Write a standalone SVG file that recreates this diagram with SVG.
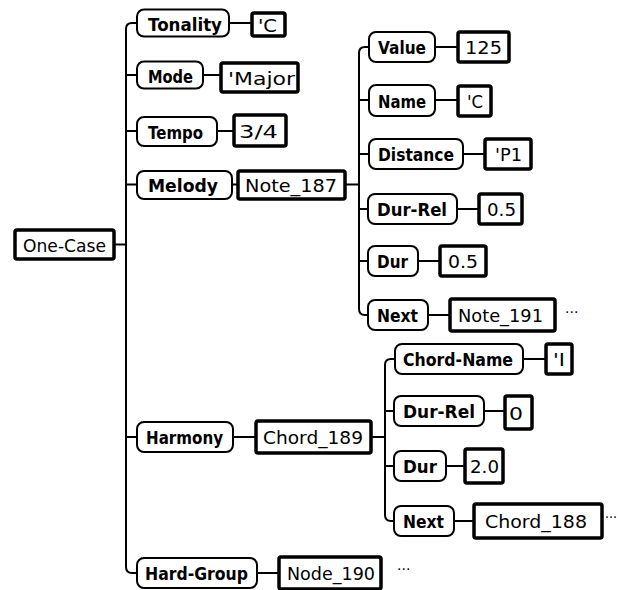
<svg xmlns="http://www.w3.org/2000/svg" width="619" height="590" viewBox="0 0 619 590">
<style>
.attr rect{fill:#fff;stroke:#000;stroke-width:2}
.val rect{fill:#fff;stroke:#000;stroke-width:3.5}
.attr text{font-family:"DejaVu Sans",sans-serif;font-weight:bold;font-size:17px;fill:#000}
.val text{font-family:"DejaVu Sans",sans-serif;font-size:17px;fill:#000}
.conn{fill:none;stroke:#000;stroke-width:2}
.dots{font-family:"DejaVu Sans",sans-serif;font-size:14px;fill:#000}
</style>
<rect width="619" height="590" fill="#fff"/>
<g id="connectors" class="conn">
<path d="M115,244.5 H126"/>
<path d="M137,23 H132 Q126,23 126,29 V567 Q126,573 132,573 H137"/>
<path d="M126,75 H137 M126,131 H137 M126,184.5 H137 M126,437 H136"/>
<path d="M229,23 H251 M203,75 H220 M217,131 H233 M232,184.5 H237"/>
<path d="M346,184.5 H359"/>
<path d="M369,47 H365 Q359,47 359,53 V309 Q359,315 365,315 H368"/>
<path d="M359,100 H369 M359,154 H369 M359,209 H368 M359,261 H368"/>
<path d="M435,47 H457 M435,100 H457 M463,154 H484 M457,209 H478 M418,261 H439 M428,315 H449"/>
<path d="M233,437 H255 M372,437 H385"/>
<path d="M395,359 H391 Q385,359 385,365 V515 Q385,521 391,521 H394"/>
<path d="M385,411 H394 M385,466 H394"/>
<path d="M523,359 H545 M484,411 H504 M446,466 H464 M454,521 H473"/>
<path d="M257,573 H278"/>
</g>
<g id="one-case" class="val"><rect x="15" y="230" width="99" height="29" rx="2"/><text x="23" y="251.5" textLength="83" lengthAdjust="spacingAndGlyphs">One-Case</text></g>
<g id="tonality" class="attr"><rect x="137" y="9.5" width="92" height="27" rx="7"/><text x="148" y="30.5" textLength="74" lengthAdjust="spacingAndGlyphs">Tonality</text></g>
<g id="tonality-val" class="val"><rect x="252" y="13" width="33" height="23" rx="2"/><text x="258" y="31.5" textLength="19" lengthAdjust="spacingAndGlyphs">'C</text></g>
<g id="mode" class="attr"><rect x="137" y="61.5" width="66" height="27" rx="7"/><text x="148" y="82.5" textLength="45" lengthAdjust="spacingAndGlyphs">Mode</text></g>
<g id="mode-val" class="val"><rect x="221" y="63" width="77" height="29" rx="2"/><text x="228" y="84.5" textLength="67" lengthAdjust="spacingAndGlyphs">'Major</text></g>
<g id="tempo" class="attr"><rect x="137" y="117" width="80" height="29" rx="7"/><text x="148" y="139" textLength="55" lengthAdjust="spacingAndGlyphs">Tempo</text></g>
<g id="tempo-val" class="val"><rect x="234" y="115" width="52" height="31" rx="2"/><text x="239" y="137.5" textLength="39" lengthAdjust="spacingAndGlyphs">3/4</text></g>
<g id="melody" class="attr"><rect x="137" y="171" width="95" height="28" rx="7"/><text x="148" y="192" textLength="70" lengthAdjust="spacingAndGlyphs">Melody</text></g>
<g id="note187" class="val"><rect x="238" y="171" width="107" height="28" rx="2"/><text x="245" y="192" textLength="92" lengthAdjust="spacingAndGlyphs">Note_187</text></g>
<g id="value" class="attr"><rect x="369" y="32" width="66" height="30" rx="7"/><text x="378" y="54" textLength="48" lengthAdjust="spacingAndGlyphs">Value</text></g>
<g id="value-val" class="val"><rect x="458" y="32" width="51" height="30" rx="2"/><text x="465" y="54" textLength="37" lengthAdjust="spacingAndGlyphs">125</text></g>
<g id="name" class="attr"><rect x="369" y="85" width="66" height="31" rx="7"/><text x="378" y="108" textLength="48" lengthAdjust="spacingAndGlyphs">Name</text></g>
<g id="name-val" class="val"><rect x="458" y="86" width="33" height="30" rx="2"/><text x="467" y="108" textLength="16" lengthAdjust="spacingAndGlyphs">'C</text></g>
<g id="distance" class="attr"><rect x="369" y="139" width="94" height="30" rx="7"/><text x="378" y="161" textLength="76" lengthAdjust="spacingAndGlyphs">Distance</text></g>
<g id="distance-val" class="val"><rect x="485" y="139" width="46" height="30" rx="2"/><text x="495" y="161" textLength="27" lengthAdjust="spacingAndGlyphs">'P1</text></g>
<g id="durrel1" class="attr"><rect x="368" y="194" width="89" height="30" rx="7"/><text x="377" y="216" textLength="70" lengthAdjust="spacingAndGlyphs">Dur-Rel</text></g>
<g id="durrel1-val" class="val"><rect x="479" y="194" width="43" height="30" rx="2"/><text x="487" y="216" textLength="29" lengthAdjust="spacingAndGlyphs">0.5</text></g>
<g id="dur1" class="attr"><rect x="368" y="246" width="50" height="30" rx="7"/><text x="377" y="268" textLength="31" lengthAdjust="spacingAndGlyphs">Dur</text></g>
<g id="dur1-val" class="val"><rect x="440" y="246" width="46" height="30" rx="2"/><text x="448" y="268" textLength="30" lengthAdjust="spacingAndGlyphs">0.5</text></g>
<g id="next1" class="attr"><rect x="368" y="300" width="60" height="30" rx="7"/><text x="377" y="322" textLength="41" lengthAdjust="spacingAndGlyphs">Next</text></g>
<g id="note191" class="val"><rect x="450" y="299" width="105" height="32" rx="2"/><text x="458" y="322" textLength="85" lengthAdjust="spacingAndGlyphs">Note_191</text></g>
<text class="dots" x="565" y="317">···</text>
<g id="harmony" class="attr"><rect x="137" y="422" width="96" height="30" rx="7"/><text x="146" y="444" textLength="77" lengthAdjust="spacingAndGlyphs">Harmony</text></g>
<g id="chord189" class="val"><rect x="256" y="421" width="115" height="32" rx="2"/><text x="263" y="444" textLength="100" lengthAdjust="spacingAndGlyphs">Chord_189</text></g>
<g id="chordname" class="attr"><rect x="395" y="344" width="128" height="30" rx="7"/><text x="403" y="366" textLength="110" lengthAdjust="spacingAndGlyphs">Chord-Name</text></g>
<g id="chordname-val" class="val"><rect x="546" y="344" width="26" height="30" rx="2"/><text x="553" y="366" textLength="12" lengthAdjust="spacingAndGlyphs">'I</text></g>
<g id="durrel2" class="attr"><rect x="394" y="396" width="90" height="30" rx="7"/><text x="403" y="418" textLength="72" lengthAdjust="spacingAndGlyphs">Dur-Rel</text></g>
<g id="durrel2-val" class="val"><rect x="505" y="396" width="27" height="33" rx="2"/><text x="509" y="419.5" textLength="14" lengthAdjust="spacingAndGlyphs">0</text></g>
<g id="dur2" class="attr"><rect x="394" y="451" width="52" height="30" rx="7"/><text x="403" y="473" textLength="34" lengthAdjust="spacingAndGlyphs">Dur</text></g>
<g id="dur2-val" class="val"><rect x="465" y="449" width="38" height="34" rx="2"/><text x="470" y="473" textLength="29" lengthAdjust="spacingAndGlyphs">2.0</text></g>
<g id="next2" class="attr"><rect x="394" y="506" width="60" height="30" rx="7"/><text x="403" y="528" textLength="41" lengthAdjust="spacingAndGlyphs">Next</text></g>
<g id="chord188" class="val"><rect x="474" y="504" width="128" height="34" rx="2"/><text x="485" y="528" textLength="102" lengthAdjust="spacingAndGlyphs">Chord_188</text></g>
<text class="dots" x="605" y="522" textLength="12" lengthAdjust="spacingAndGlyphs">···</text>
<g id="hardgroup" class="attr"><rect x="137" y="558" width="120" height="30" rx="7"/><text x="145" y="580" textLength="103" lengthAdjust="spacingAndGlyphs">Hard-Group</text></g>
<g id="node190" class="val"><rect x="279" y="557" width="102" height="32" rx="2"/><text x="287" y="580" textLength="88" lengthAdjust="spacingAndGlyphs">Node_190</text></g>
<text class="dots" x="397" y="574">···</text>
</svg>
